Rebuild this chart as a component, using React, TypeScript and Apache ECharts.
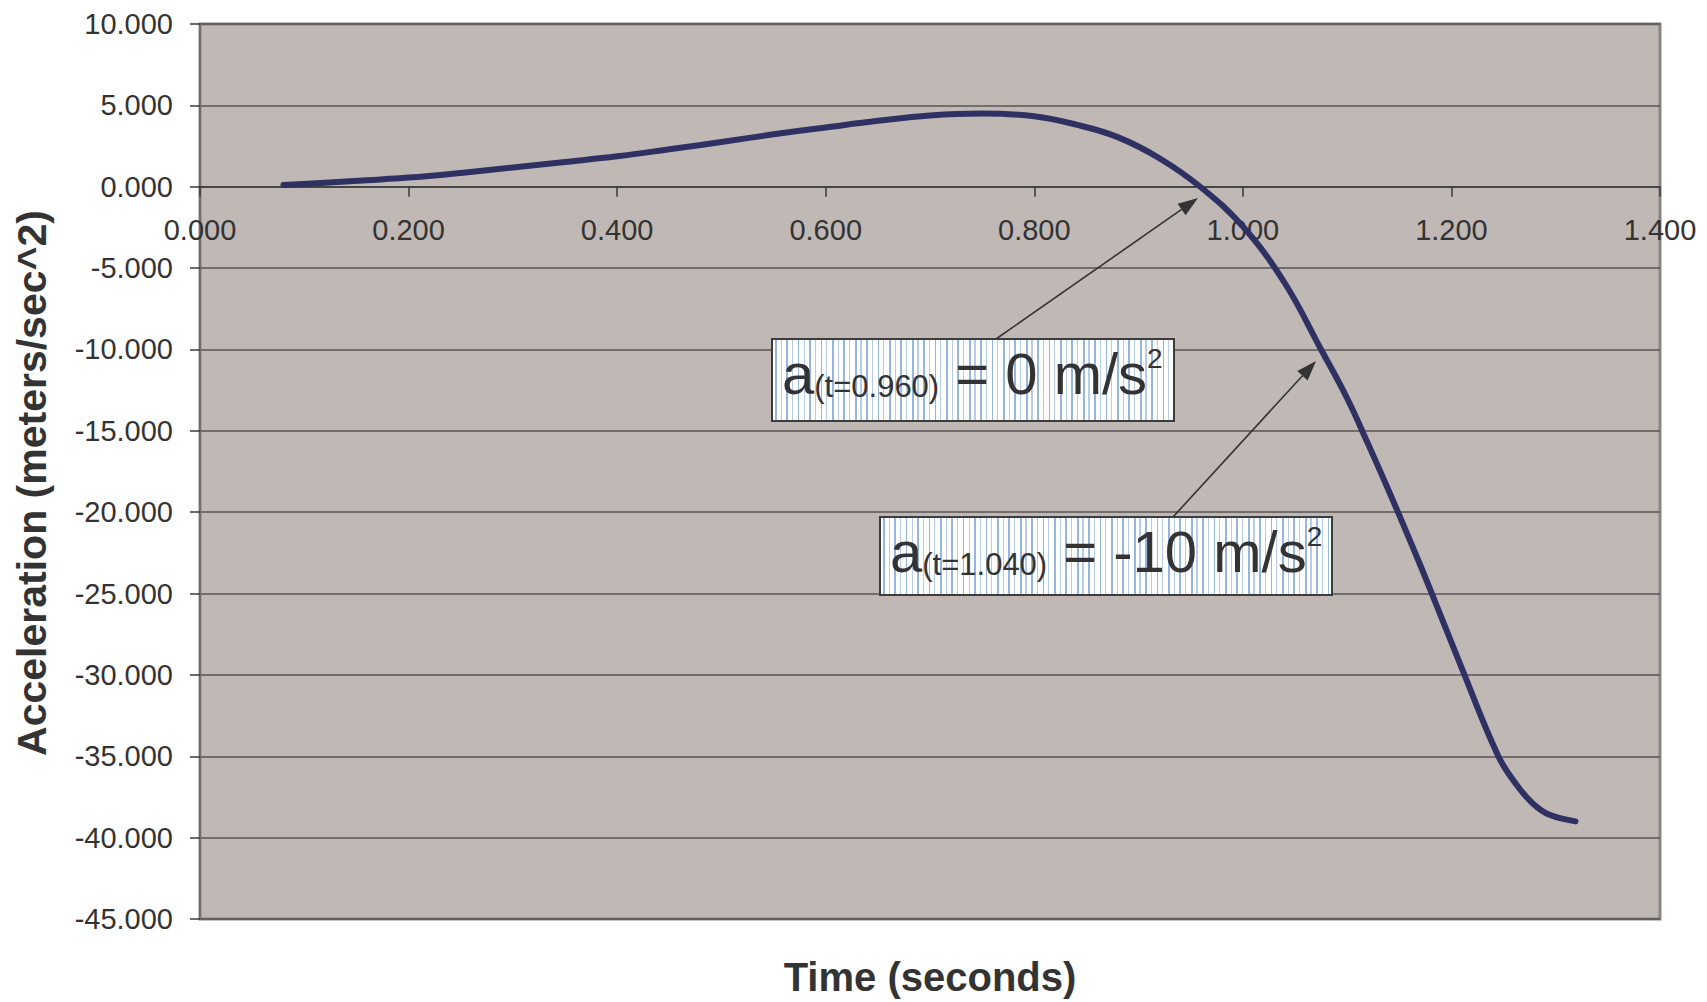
import React, { useEffect, useRef } from "react";
import * as echarts from "echarts";

const timeSec = [
  0.08, 0.12, 0.16, 0.2, 0.25, 0.3, 0.35, 0.4, 0.45, 0.5, 0.55, 0.6, 0.65, 0.7,
  0.75, 0.8, 0.84, 0.88, 0.92, 0.96, 1.0, 1.04, 1.075, 1.1, 1.12, 1.14, 1.16,
  1.18, 1.21, 1.245, 1.263, 1.278, 1.294, 1.319,
];
const accelMs2 = [
  0.1, 0.25, 0.4, 0.56, 0.85, 1.18, 1.52, 1.87, 2.3, 2.75, 3.22, 3.64, 4.05,
  4.38, 4.5, 4.33, 3.82, 3.05, 1.75, -0.05, -2.45, -5.9, -10.0, -13.0, -15.8,
  -18.7, -21.7, -24.8, -29.6, -35.0, -36.8, -37.9, -38.6, -39.0,
];

const xAxisTitle = "Time (seconds)";
const yAxisTitle = "Acceleration (meters/sec^2)";
const note1 = { sub: "(t=0.960)", main: " = 0 m/s" };
const note2 = { sub: "(t=1.040)", main: " = -10 m/s" };

const Y_MIN = -45;
const Y_MAX = 10;
const GRID_TOP = 24;
const GRID_BOTTOM = 83;
const CHART_H = 1002;

const FONT = "'Liberation Sans', Arial, Helvetica, sans-serif";
const TXT = "#333333";

function stripeFill(width: number) {
  const stops: any[] = [{ offset: 0, color: "#ffffff" }];
  const step = 5.7;
  let i = 0;
  for (let p = 3; p < width - 1; p += step, i++) {
    const w = i % 2 === 0 ? 1.7 : 1.1;
    const c = i % 2 === 0 ? "#95B5E3" : "#B5CCEE";
    const a = p / width;
    const b = Math.min(1, (p + w) / width);
    stops.push({ offset: a, color: "#ffffff" });
    stops.push({ offset: a, color: c });
    stops.push({ offset: b, color: c });
    stops.push({ offset: b, color: "#ffffff" });
  }
  stops.push({ offset: 1, color: "#ffffff" });
  return new echarts.graphic.LinearGradient(0, 0, 1, 0, stops);
}

function arrow(x1: number, y1: number, x2: number, y2: number) {
  const dx = x2 - x1;
  const dy = y2 - y1;
  const len = Math.sqrt(dx * dx + dy * dy);
  const ux = dx / len;
  const uy = dy / len;
  const L = 20;
  const H = 7;
  const bx = x2 - ux * L;
  const by = y2 - uy * L;
  const nx = -uy;
  const ny = ux;
  return [
    {
      type: "line",
      z: 100,
      shape: { x1, y1, x2: bx, y2: by },
      style: { stroke: "#333333", lineWidth: 1.6 },
    },
    {
      type: "polygon",
      z: 100,
      shape: {
        points: [
          [x2, y2],
          [bx + nx * H, by + ny * H],
          [bx - nx * H, by - ny * H],
        ],
      },
      style: { fill: "#333333" },
    },
  ];
}

function noteBox(x: number, y: number, w: number, h: number, n: { sub: string; main: string }) {
  return [
    {
      type: "rect",
      z: 100,
      shape: { x, y, width: w, height: h },
      style: { fill: stripeFill(w), stroke: "#3c3c3c", lineWidth: 2 },
    },
    {
      type: "text",
      z: 101,
      x: x + 10,
      y: y + 34,
      style: {
        text: `{m|a}{s|${n.sub}}{m|${n.main}}{p|2}`,
        textAlign: "left",
        textVerticalAlign: "middle",
        fill: TXT,
        fontFamily: FONT,
        rich: {
          m: { fontSize: 58, lineHeight: 58, verticalAlign: "bottom", fill: TXT, fontFamily: FONT },
          s: { fontSize: 31, lineHeight: 31, verticalAlign: "bottom", fill: TXT, fontFamily: FONT },
          p: { fontSize: 28, lineHeight: 28, verticalAlign: "top", fill: TXT, fontFamily: FONT },
        },
      },
    },
  ];
}

export default function App() {
  const ref = useRef<HTMLDivElement>(null);
  useEffect(() => {
    document.body.style.margin = "0";
    document.body.style.overflow = "hidden";
    if (!ref.current) return;
    const chart = echarts.init(ref.current, null, { renderer: "svg" });
    const data = timeSec.map((t, i) => [t, accelMs2[i]]);
    const plotH = CHART_H - GRID_TOP - GRID_BOTTOM;
    const zeroOffset = -((0 - Y_MIN) / (Y_MAX - Y_MIN)) * plotH;
    chart.setOption({
      animation: false,
      backgroundColor: "#ffffff",
      grid: {
        left: 200,
        right: 47,
        top: GRID_TOP,
        bottom: GRID_BOTTOM,
        show: true,
        backgroundColor: "#C0B8B5",
        borderColor: "#8C8480",
        borderWidth: 3,
      },
      xAxis: {
        type: "value",
        position: "bottom",
        offset: zeroOffset,
        min: 0,
        max: 1.4,
        interval: 0.2,
        axisLine: { show: true, onZero: false, lineStyle: { color: "#3a3a3a", width: 1.5 } },
        axisTick: { show: true, length: 10, lineStyle: { color: "#3a3a3a", width: 1.5 } },
        axisLabel: {
          show: true,
          margin: 29,
          fontSize: 29,
          color: TXT,
          fontFamily: FONT,
          showMinLabel: true,
          showMaxLabel: true,
          formatter: (v: number) => v.toFixed(3),
        },
        splitLine: { show: false },
      },
      yAxis: {
        type: "value",
        min: Y_MIN,
        max: Y_MAX,
        interval: 5,
        axisLine: { show: true, onZero: false, lineStyle: { color: "#766D6A", width: 2 } },
        axisTick: { show: true, length: 10, lineStyle: { color: "#3a3a3a", width: 1.5 } },
        axisLabel: {
          margin: 27,
          fontSize: 29,
          color: TXT,
          fontFamily: FONT,
          formatter: (v: number) => v.toFixed(3),
        },
        splitLine: { show: true, lineStyle: { color: "#595354", width: 1.5 } },
      },
      series: [
        {
          type: "line",
          data,
          smooth: 0.4,
          showSymbol: false,
          lineStyle: { color: "#2F3163", width: 6, cap: "round", join: "round" },
          itemStyle: { color: "#2F3163" },
          z: 5,
        },
      ],
      graphic: [
        {
          type: "text",
          x: 930,
          y: 977,
          style: {
            text: xAxisTitle,
            textAlign: "center",
            textVerticalAlign: "middle",
            fontSize: 40,
            fontWeight: "bold",
            fontFamily: FONT,
            fill: TXT,
          },
        },
        {
          type: "text",
          x: 32,
          y: 483,
          rotation: Math.PI / 2,
          style: {
            text: yAxisTitle,
            textAlign: "center",
            textVerticalAlign: "middle",
            fontSize: 41,
            fontWeight: "bold",
            fontFamily: FONT,
            fill: TXT,
          },
        },
        ...arrow(996, 339, 1198, 198),
        ...arrow(1173, 517, 1316, 361),
        ...noteBox(772, 339, 402, 82, note1),
        ...noteBox(880, 517, 452, 78, note2),
      ],
    });
    return () => chart.dispose();
  }, []);
  return <div ref={ref} style={{ width: 1707, height: 1002 }} />;
}
